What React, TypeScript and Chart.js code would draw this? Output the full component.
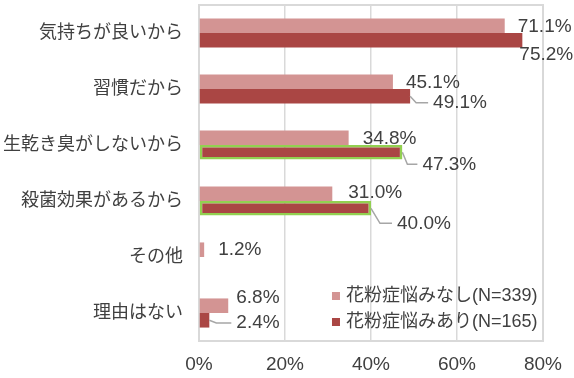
import React, { useEffect, useRef } from "react";
import { Chart, registerables } from "chart.js";

Chart.register(...registerables);

const categories = [
  "気持ちが良いから",
  "習慣だから",
  "生乾き臭がしないから",
  "殺菌効果があるから",
  "その他",
  "理由はない",
];
const seriesNames = ["花粉症悩みなし(N=339)", "花粉症悩みあり(N=165)"];
const noAllergyValues = [71.1, 45.1, 34.8, 31.0, 1.2, 6.8];
const allergyValues = [75.2, 49.1, 47.3, 40.0, 0, 2.4];
const highlighted = [false, false, true, true, false, false];
const xTickValues = [0, 20, 40, 60, 80];

const PINK = "#D39493";
const DARK = "#AA4644";
const GREEN = "#92D050";
const GRID = "#D9D9D9";
const TEXT = "#404040";
const LEADER = "#A6A6A6";
const FONT = "'Liberation Sans', 'Noto Sans CJK JP', Arial, sans-serif";

// label placement: [dx from bar end to label left, dy from bar centre to label centre]
const pinkLabelOffsets = [[13, 0.6], [13, 1], [14, 0.7], [16, -1.3], [14, 0.5], [8, -8]];
const darkLabelOffsets = [[-3, 14], [23, 6.5], [20, 12], [26, 15], null, [27, 2.6]];
// leader elbow x offsets (null = no leader)
const darkLeaderElbow = [null, 6, 5, 9, null, 7];

const labelPlugin = {
  id: "customLabels",
  beforeDatasetsDraw(chart: any) {
    const { ctx, chartArea } = chart;
    ctx.save();
    ctx.strokeStyle = GRID;
    ctx.lineWidth = 2;
    ctx.strokeRect(chartArea.left, chartArea.top, chartArea.right - chartArea.left, chartArea.bottom - chartArea.top);
    ctx.restore();
  },
  afterDatasetsDraw(chart: any) {
    const { ctx, chartArea } = chart;
    ctx.save();
    ctx.font = `19px ${FONT}`;
    ctx.fillStyle = TEXT;
    ctx.textAlign = "left";
    ctx.textBaseline = "middle";
    const fmt = (v: number) => v.toFixed(1) + "%";
    const m0 = chart.getDatasetMeta(0);
    m0.data.forEach((bar: any, i: number) => {
      const off = pinkLabelOffsets[i];
      if (!off) return;
      ctx.fillText(fmt(noAllergyValues[i]), bar.x + off[0], bar.y + off[1]);
    });
    const m1 = chart.getDatasetMeta(1);
    m1.data.forEach((bar: any, i: number) => {
      const off = darkLabelOffsets[i];
      if (!off) return;
      const lx = bar.x + off[0];
      const ly = bar.y + off[1];
      const elbow = darkLeaderElbow[i];
      if (elbow !== null) {
        ctx.save();
        ctx.strokeStyle = LEADER;
        ctx.lineWidth = 1.5;
        ctx.beginPath();
        ctx.moveTo(bar.x, bar.y);
        ctx.lineTo(bar.x + elbow, ly);
        ctx.lineTo(lx - 5, ly);
        ctx.stroke();
        ctx.restore();
      }
      ctx.fillText(fmt(allergyValues[i]), lx, ly);
    });

    // legend inside plot area
    ctx.font = `18px ${FONT}`;
    const colors = [PINK, DARK];
    const lx = chartArea.right - 211;
    const rowY = [chartArea.bottom - 45, chartArea.bottom - 19];
    seriesNames.forEach((name, k) => {
      ctx.fillStyle = colors[k];
      ctx.fillRect(lx, rowY[k] - 4, 8, 8);
      ctx.fillStyle = TEXT;
      ctx.fillText(name, lx + 14, rowY[k]);
    });
    ctx.restore();
  },
};

export default function App() {
  const ref = useRef<HTMLCanvasElement | null>(null);
  useEffect(() => {
    if (!ref.current) return;
    const chart = new Chart(ref.current, {
      type: "bar",
      data: {
        labels: categories,
        datasets: [
          {
            label: seriesNames[0],
            data: noAllergyValues,
            backgroundColor: PINK,
            borderWidth: 0,
          },
          {
            label: seriesNames[1],
            data: allergyValues,
            backgroundColor: DARK,
            borderColor: highlighted.map((h) => (h ? GREEN : "rgba(0,0,0,0)")),
            borderWidth: highlighted.map((h) => (h ? 2.5 : 0)),
            borderSkipped: false,
          },
        ],
      },
      options: {
        indexAxis: "y",
        animation: false,
        responsive: true,
        maintainAspectRatio: false,
        datasets: { bar: { categoryPercentage: 0.52, barPercentage: 1 } },
        layout: { padding: { left: 0, right: 30, top: 5, bottom: 0 } },
        plugins: { legend: { display: false }, tooltip: { enabled: false } },
        scales: {
          x: {
            min: 0,
            max: 80,
            afterBuildTicks: (scale: any) => {
              scale.ticks = xTickValues.map((v) => ({ value: v }));
            },
            afterFit: (scale: any) => {
              scale.height = 37;
            },
            grid: { color: GRID, lineWidth: 1.5, drawTicks: false },
            border: { display: false },
            ticks: {
              padding: 12,
              color: TEXT,
              font: { size: 19, family: FONT },
              callback: (v: any) => v + "%",
            },
          },
          y: {
            afterFit: (scale: any) => {
              scale.width = 199;
              scale.paddingTop = 0;
              scale.paddingBottom = 0;
            },
            grid: { display: false, drawTicks: false },
            border: { display: false },
            ticks: {
              padding: 16,
              color: TEXT,
              font: { size: 18, family: FONT },
            },
          },
        },
      },
      plugins: [labelPlugin],
    } as any);
    return () => chart.destroy();
  }, []);
  return (
    <div style={{ position: "fixed", left: 0, top: 0, width: 574, height: 378, background: "#fff" }}>
      <canvas ref={ref} />
    </div>
  );
}
